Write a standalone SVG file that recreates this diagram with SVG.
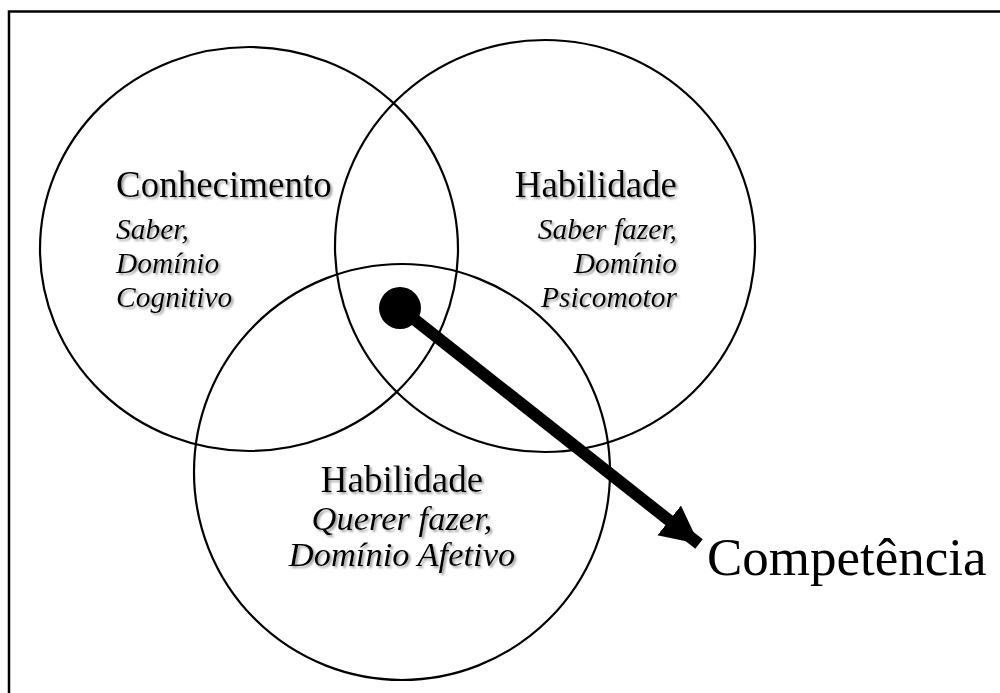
<svg xmlns="http://www.w3.org/2000/svg" width="1000" height="693" viewBox="0 0 1000 693">
  <defs>
    <filter id="shadow" x="-10%" y="-20%" width="130%" height="150%">
      <feDropShadow dx="2" dy="2" stdDeviation="0.9" flood-color="#888888" flood-opacity="0.8"/>
    </filter>
    <marker id="head" markerUnits="userSpaceOnUse" markerWidth="42" markerHeight="40" refX="38" refY="19" orient="auto" viewBox="0 0 42 38">
      <path d="M0,0 L38,19 L0,38 Z" fill="#000"/>
    </marker>
  </defs>
  <style>
    .circ { fill: none; stroke: #000; stroke-width: 2.2; }
    .t { font-family: "Liberation Serif", "Times New Roman", serif; fill: #000; }
    .title { font-size: 37px; filter: url(#shadow); }
    .sub { font-size: 29.5px; font-style: italic; filter: url(#shadow); }
    .sub2 { font-size: 34.5px; font-style: italic; filter: url(#shadow); }
  </style>
  <rect x="9" y="11.5" width="1000" height="700" fill="#fff" stroke="#000" stroke-width="2.5"/>

  <g id="conhecimento">
    <ellipse class="circ" cx="249" cy="249" rx="209" ry="202"/>
    <text class="t title" x="116" y="197">Conhecimento</text>
    <text class="t sub" x="116" y="239">Saber,</text>
    <text class="t sub" x="116" y="273">Domínio</text>
    <text class="t sub" x="116" y="307">Cognitivo</text>
  </g>

  <g id="habilidade-psicomotor">
    <ellipse class="circ" cx="545" cy="246" rx="210" ry="206"/>
    <text class="t title" x="677" y="197" text-anchor="end">Habilidade</text>
    <text class="t sub" x="677" y="239" text-anchor="end">Saber fazer,</text>
    <text class="t sub" x="677" y="273" text-anchor="end">Domínio</text>
    <text class="t sub" x="677" y="307" text-anchor="end">Psicomotor</text>
  </g>

  <g id="habilidade-afetivo">
    <circle class="circ" cx="402" cy="472" r="208"/>
    <text class="t title" x="402" y="492" text-anchor="middle">Habilidade</text>
    <text class="t sub2" x="402" y="530" text-anchor="middle">Querer fazer,</text>
    <text class="t sub2" x="402" y="566" text-anchor="middle">Domínio Afetivo</text>
  </g>

  <g id="connectors">
    <circle cx="400" cy="308" r="21" fill="#000"/>
    <line x1="400" y1="308" x2="699" y2="544" stroke="#000" stroke-width="12" marker-end="url(#head)"/>
  </g>

  <g id="competencia">
    <text class="t" x="707" y="575" font-size="53">Competência</text>
  </g>
</svg>
